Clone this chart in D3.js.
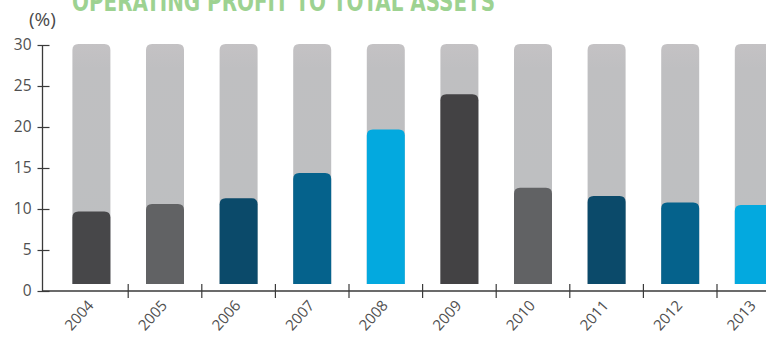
<!DOCTYPE html>
<html>
<head>
<meta charset="utf-8">
<script src="https://cdn.jsdelivr.net/npm/d3@7"></script>
<style>
  html, body { margin: 0; padding: 0; background: #ffffff; }
  svg { display: block; }
</style>
</head>
<body>
<svg id="chart" width="766" height="340"></svg>
<script>
// Operating profit to total assets, by year (%)
const years = ["2004", "2005", "2006", "2007", "2008", "2009", "2010", "2011", "2012", "2013"];
const ratios = [9.7, 10.6, 11.3, 14.4, 19.7, 24.0, 12.6, 11.6, 10.8, 10.5];
const barColors = ["#474749", "#616264", "#0b4a6a", "#05628c", "#03a9df",
                   "#434244", "#616264", "#0b4a6a", "#05628c", "#03a9df"];
const yTicks = [0, 5, 10, 15, 20, 25, 30];
const yMax = 30;
const title = "OPERATING PROFIT TO TOTAL ASSETS";
const unitLabel = "(%)";

const svg = d3.select("#chart");
const axisX = 42.5, axisY0 = 291, axisY30 = 45;

const x = d3.scaleBand().domain(years).range([54.6, 54.6 + 73.6 * years.length]).padding(0);
const y = d3.scaleLinear().domain([0, yMax]).range([axisY0, axisY30]);

const barW = 38, r = 6, lift = 7;

// bar with rounded top corners
function barPath(cx, top, bottom) {
  const l = cx - barW / 2, rr = cx + barW / 2;
  return `M${l},${bottom}V${top + r}Q${l},${top} ${l + r},${top}H${rr - r}Q${rr},${top} ${rr},${top + r}V${bottom}Z`;
}

// title (runs off the top edge)
svg.append("text")
  .attr("x", 72).attr("y", 11)
  .attr("textLength", 423).attr("lengthAdjust", "spacingAndGlyphs")
  .style("font-family", "'DejaVu Sans Condensed', 'DejaVu Sans', sans-serif")
  .style("font-weight", "bold").style("font-size", "27px")
  .style("fill", "#9dd291")
  .text(title);

svg.append("text")
  .attr("x", 29).attr("y", 26)
  .style("font-family", "'Open Sans', sans-serif").style("font-size", "19px")
  .style("fill", "#4a4a4a")
  .text(unitLabel);

const defs = svg.append("defs");
const grad = defs.append("linearGradient").attr("id", "bg").attr("x1", 0).attr("y1", 0).attr("x2", 0).attr("y2", 1);
grad.append("stop").attr("offset", "0").attr("stop-color", "#c4c2c4");
grad.append("stop").attr("offset", "0.1").attr("stop-color", "#bfbfc1");
grad.append("stop").attr("offset", "1").attr("stop-color", "#bdbfc1");

const g = svg.append("g");

// full-height background columns
g.selectAll("path.bg").data(years).join("path")
  .attr("class", "bg")
  .attr("d", d => barPath(x(d) + x.bandwidth() / 2, y(yMax) - 1, y(0) - lift))
  .attr("fill", "url(#bg)");

// value columns
g.selectAll("path.val").data(years).join("path")
  .attr("class", "val")
  .attr("d", (d, i) => barPath(x(d) + x.bandwidth() / 2, y(ratios[i]), y(0) - lift))
  .attr("fill", (d, i) => barColors[i]);

// y axis
const yAxis = d3.axisLeft(y).tickValues(yTicks).tickSize(6).tickPadding(6).tickSizeOuter(0);
const ya = svg.append("g").attr("transform", `translate(${axisX},0)`).call(yAxis);
ya.select(".domain").attr("stroke", "#3a3a3a").attr("stroke-width", 1.3)
  .attr("d", `M0,${axisY30}V${axisY0}`);
ya.selectAll(".tick line").attr("stroke", "#3a3a3a").attr("stroke-width", 1.2)
  .attr("x1", 7).attr("x2", -5);
ya.selectAll(".tick text")
  .style("font-family", "'Open Sans', sans-serif").style("font-size", "15.5px")
  .style("fill", "#505050").attr("x", -11);

// x axis
const xa = svg.append("g").attr("transform", `translate(0,${axisY0})`);
xa.append("line").attr("x1", axisX).attr("x2", 766).attr("y1", 0).attr("y2", 0)
  .attr("stroke", "#3a3a3a").attr("stroke-width", 1.3);
xa.selectAll("line.sep").data(years.slice(1)).join("line")
  .attr("class", "sep")
  .attr("x1", d => x(d)).attr("x2", d => x(d))
  .attr("y1", -7).attr("y2", 7)
  .attr("stroke", "#3a3a3a").attr("stroke-width", 1.2);
xa.selectAll("text.yr").data(years).join("text")
  .attr("class", "yr")
  .attr("transform", d => `translate(${x(d) + x.bandwidth() / 2 + 3},${15}) rotate(-48)`)
  .attr("text-anchor", "end")
  .style("font-family", "'Open Sans', sans-serif").style("font-size", "15px")
  .style("fill", "#505050")
  .text(d => d);
</script>
</body>
</html>
